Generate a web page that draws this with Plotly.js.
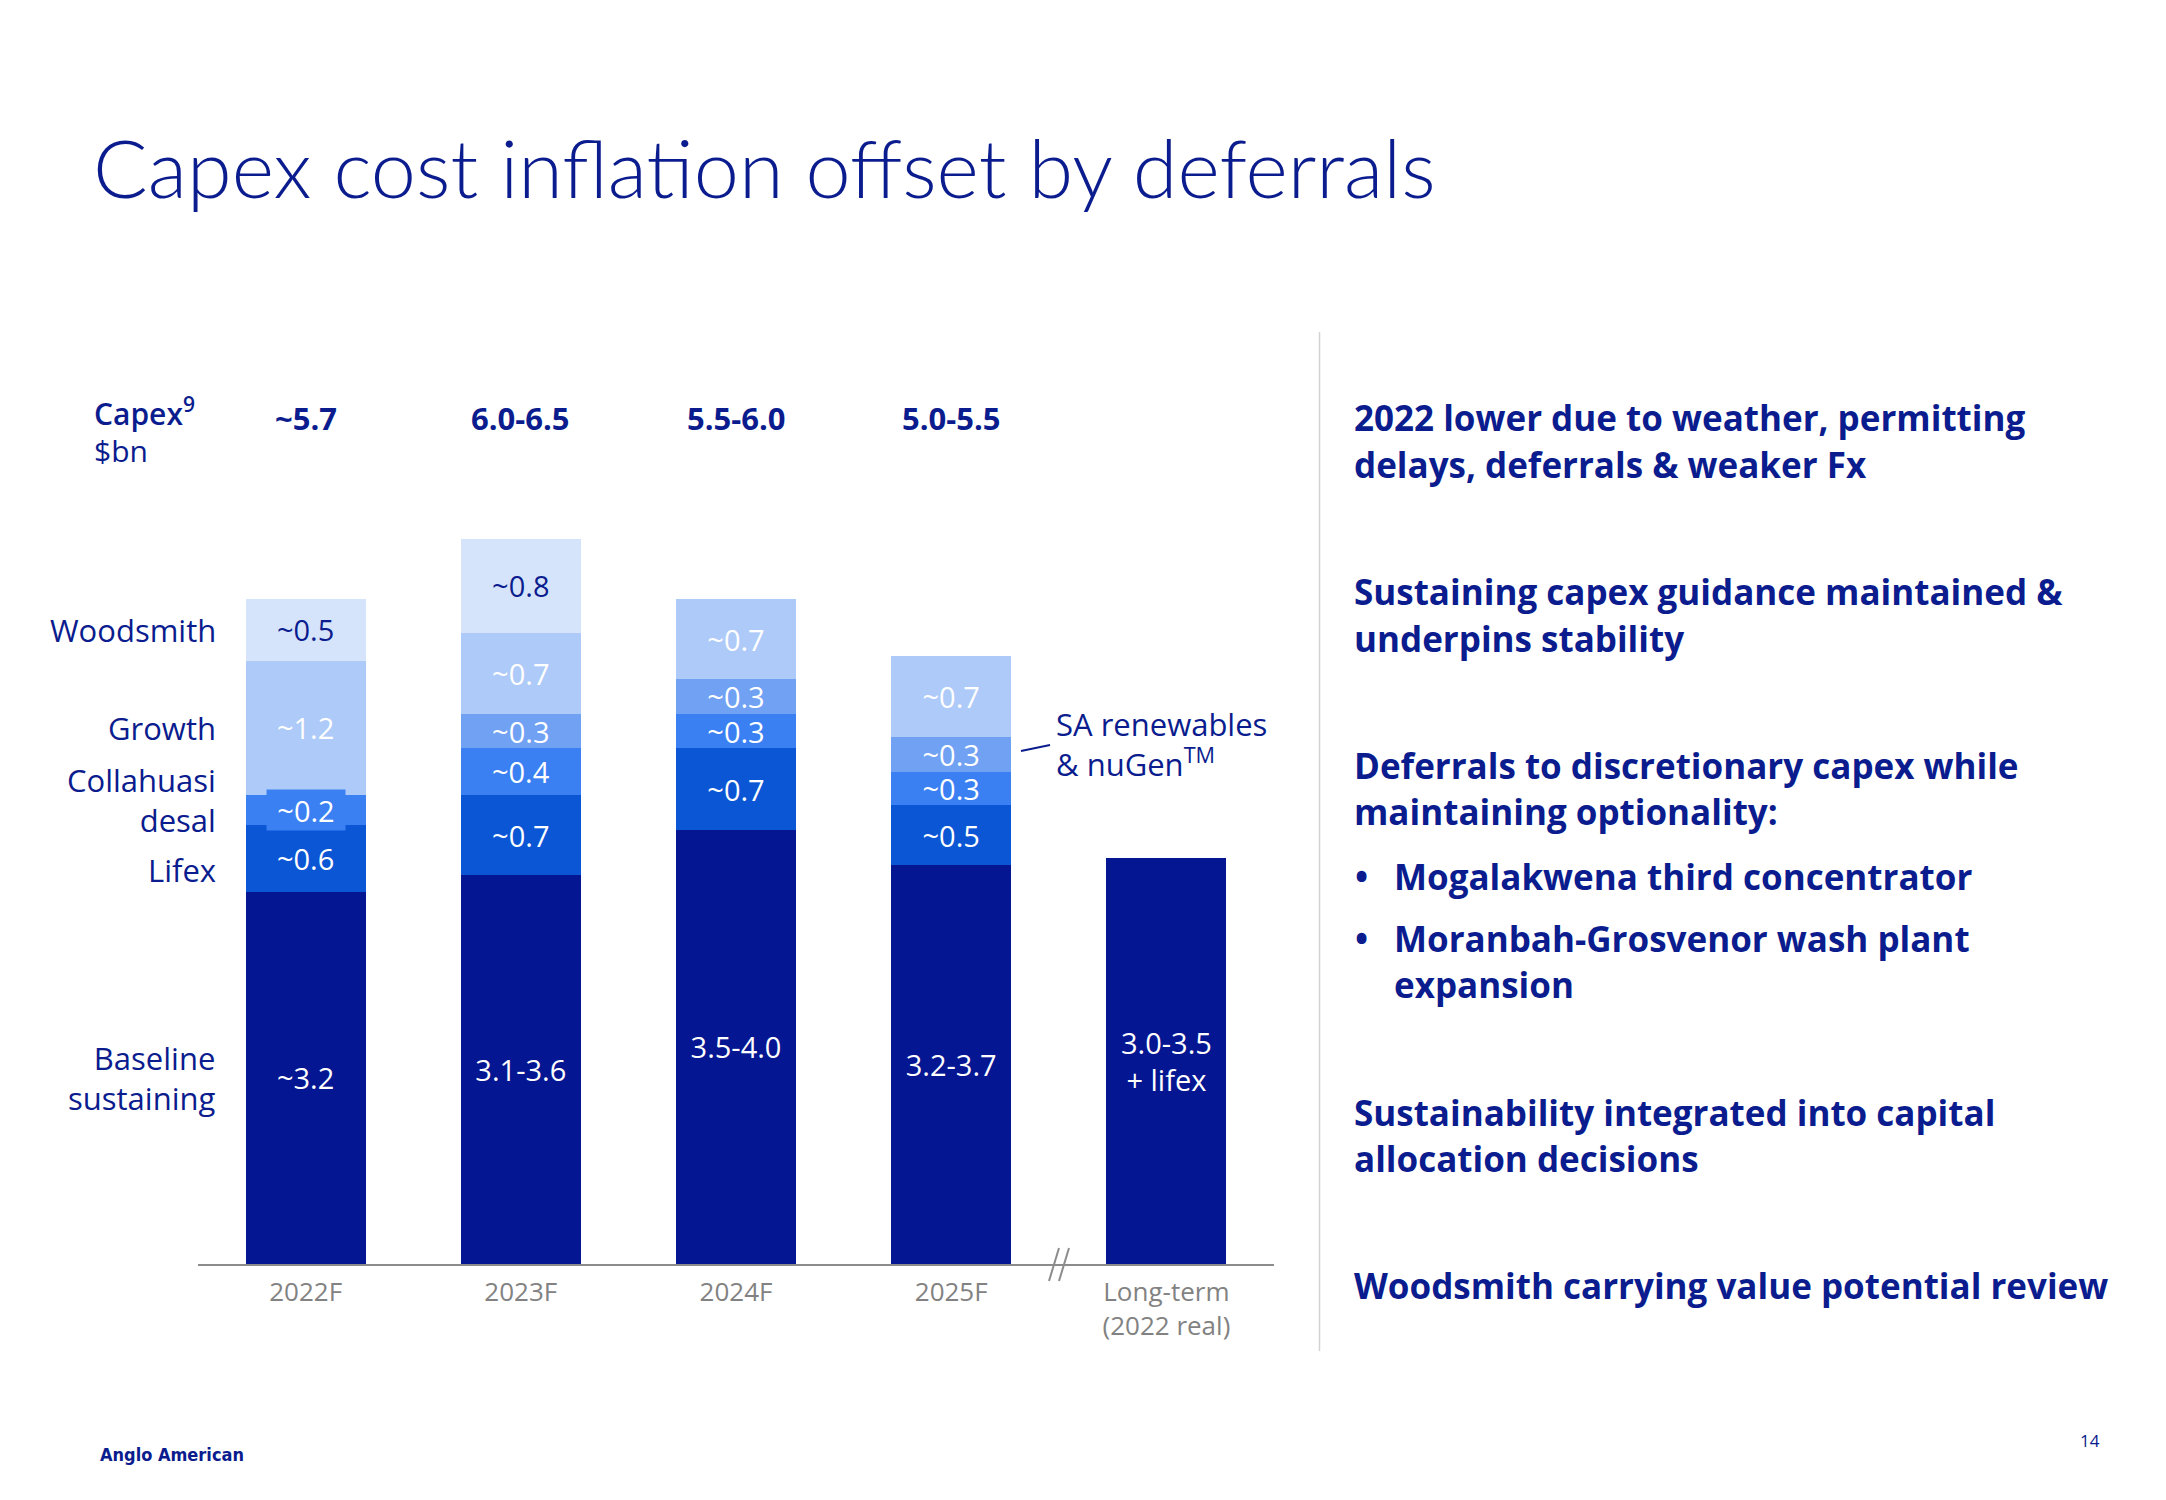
<!DOCTYPE html>
<html>
<head>
<meta charset="utf-8">
<script src="https://cdn.plot.ly/plotly-3.0.1.min.js"></script>
<style>
  html, body { margin: 0; padding: 0; background: #ffffff; }
  #chart { width: 2166px; height: 1500px; }
</style>
</head>
<body>
<div id="chart"></div>
<script>
// ---------- data ----------
const categories = ['2022F', '2023F', '2024F', '2025F', 'Long-term'];
const tickLabels = ['2022F', '2023F', '2024F', '2025F', 'Long-term<br>(2022 real)'];

const baseline   = [3.19, 3.33, 3.72, 3.42, 3.48];
const lifex      = [0.57, 0.69, 0.70, 0.51, 0];
const collahuasi = [0.26, 0.40, 0.29, 0.29, 0];
const saRenew    = [0, 0.29, 0.30, 0.30, 0];
const growth     = [1.15, 0.70, 0.69, 0.69, 0];
const woodsmith  = [0.53, 0.80, 0, 0, 0];

const baselineLabels   = ['~3.2', '3.1-3.6', '3.5-4.0', '3.2-3.7', '3.0-3.5<br>+ lifex'];
const lifexLabels      = ['~0.6', '~0.7', '~0.7', '~0.5', ''];
const collahuasiLabels = ['~0.2', '~0.4', '~0.3', '~0.3', ''];
const saLabels         = ['', '~0.3', '~0.3', '~0.3', ''];
const growthLabels     = ['~1.2', '~0.7', '~0.7', '~0.7', ''];
const woodsmithLabels  = ['~0.5', '~0.8', '', '', ''];
const totals           = ['~5.7', '6.0-6.5', '5.5-6.0', '5.0-5.5', ''];

const seriesNames = ['Baseline sustaining', 'Lifex', 'Collahuasi desal', 'SA renewables & nuGen', 'Growth', 'Woodsmith'];

// ---------- style ----------
const W = 2166, H = 1500;
const NAVY = '#0A1C8E';
const colors = ['#041691', '#0B56D5', '#3A80F3', '#70A1F3', '#AECAF8', '#D6E4FB'];
const FONT = '"Open Sans", Lato, sans-serif';
const px = v => v / W;
const py = v => 1 - v / H;

function barTrace(name, y, labels, color, textColor) {
  return {
    type: 'bar', name: name, x: categories, y: y,
    text: labels.map(t => t === '' ? null : t),
    textposition: 'inside', insidetextanchor: 'middle',
    textangle: 0, constraintext: 'none',
    textfont: { family: FONT, size: 29, color: textColor },
    marker: { color: color, line: { width: 0 } },
    width: 0.557, hoverinfo: 'skip', cliponaxis: false
  };
}

const collTextInBar = collahuasiLabels.map((t, i) => i === 0 ? '' : t);

const data = [
  barTrace(seriesNames[0], baseline, baselineLabels, colors[0], '#ffffff'),
  barTrace(seriesNames[1], lifex, lifexLabels, colors[1], '#ffffff'),
  barTrace(seriesNames[2], collahuasi, collTextInBar, colors[2], '#ffffff'),
  barTrace(seriesNames[3], saRenew, saLabels, colors[3], '#ffffff'),
  barTrace(seriesNames[4], growth, growthLabels, colors[4], '#ffffff'),
  barTrace(seriesNames[5], woodsmith, woodsmithLabels, colors[5], NAVY)
];

const annotations = [];
function addText(text, x, y, size, opts) {
  opts = opts || {};
  annotations.push(Object.assign({
    text: text, xref: 'paper', yref: 'paper', x: px(x), y: py(y),
    xanchor: 'left', yanchor: 'middle', showarrow: false, align: 'left',
    font: { family: FONT, size: size, color: NAVY }
  }, opts));
}

// title
addText('Capex cost inflation offset by deferrals', 91, 166, 81,
  { font: { family: 'Lato, sans-serif', size: 81, color: NAVY, weight: 300 } });

// unit label
addText('Capex<sup>9</sup>', 92, 412, 30, { font: { family: FONT, size: 30, color: NAVY, weight: 600 } });
addText('$bn', 92, 451, 30);

// totals over bars
totals.forEach((t, i) => {
  if (!t) return;
  annotations.push({
    text: t, xref: 'x', yref: 'paper', x: categories[i], y: py(418),
    xanchor: 'center', yanchor: 'middle', showarrow: false,
    font: { family: FONT, size: 31, color: NAVY, weight: 700 }
  });
});

// left series labels
const leftLabels = [
  ['Woodsmith', 630], ['Growth', 728], ['Collahuasi<br>desal', 800],
  ['Lifex', 870], ['Baseline<br>sustaining', 1078]
];
leftLabels.forEach(l => addText(l[0], 218, l[1], 31, { xanchor: 'right', align: 'right' }));

// 2022F Collahuasi label with box
annotations.push({
  text: collahuasiLabels[0], xref: 'x', yref: 'y', x: categories[0],
  y: baseline[0] + lifex[0] + collahuasi[0] / 2,
  showarrow: false, bgcolor: colors[2], width: 76, height: 38,
  font: { family: FONT, size: 29, color: '#ffffff' }
});

// SA renewables callout
addText('SA renewables<br>& nuGen<sup>TM</sup>', 1054, 744, 31);

// right commentary
const rightLines = [
  ['2022 lower due to weather, permitting', 1352, 417],
  ['delays, deferrals & weaker Fx', 1352, 464],
  ['Sustaining capex guidance maintained &', 1352, 591],
  ['underpins stability', 1352, 638],
  ['Deferrals to discretionary capex while', 1352, 765],
  ['maintaining optionality:', 1352, 811],
  ['•', 1353, 876],
  ['Mogalakwena third concentrator', 1392, 876],
  ['•', 1353, 938],
  ['Moranbah-Grosvenor wash plant', 1392, 938],
  ['expansion', 1392, 985],
  ['Sustainability integrated into capital', 1352, 1112],
  ['allocation decisions', 1352, 1158],
  ['Woodsmith carrying value potential review', 1352, 1285]
];
rightLines.forEach(l => addText(l[0], l[1], l[2], 35,
  { font: { family: '"Open Sans", sans-serif', size: 35, color: NAVY, weight: 700 } }));

// footer
addText('Anglo American', 98, 1454, 18,
  { font: { family: '"Liberation Sans Narrow", "DejaVu Sans Condensed", sans-serif', size: 18, color: NAVY, weight: 700 } });
addText('14', 2078, 1440, 17, { font: { family: FONT, size: 17, color: NAVY } });

const shapes = [
  // separator
  { type: 'line', xref: 'paper', yref: 'paper', x0: px(1319.5), x1: px(1319.5), y0: py(332), y1: py(1351),
    line: { color: '#D3D3D3', width: 1.5 } },
  // callout leader
  { type: 'line', xref: 'paper', yref: 'paper', x0: px(1021), x1: px(1050), y0: py(751), y1: py(745),
    line: { color: NAVY, width: 1.8 } },
  // axis break slashes
  { type: 'line', xref: 'paper', yref: 'paper', x0: px(1049), x1: px(1059), y0: py(1281), y1: py(1248),
    line: { color: '#8C8C8C', width: 2 } },
  { type: 'line', xref: 'paper', yref: 'paper', x0: px(1059), x1: px(1069), y0: py(1281), y1: py(1248),
    line: { color: '#8C8C8C', width: 2 } }
];

const layout = {
  width: W, height: H,
  margin: { l: 0, r: 0, t: 0, b: 0 },
  paper_bgcolor: '#ffffff', plot_bgcolor: 'rgba(0,0,0,0)',
  barmode: 'stack', showlegend: false,
  xaxis: {
    type: 'category', domain: [px(198), px(1274)], range: [-0.5, 4.5],
    tickmode: 'array', tickvals: categories, ticktext: tickLabels,
    showline: true, linecolor: '#8C8C8C', linewidth: 2.2,
    ticks: '', showgrid: false, zeroline: false, fixedrange: true,
    tickfont: { family: FONT, size: 26, color: '#828282' },
    ticklabelstandoff: 4
  },
  yaxis: {
    domain: [1 - 1264 / H, 1 - 1264 / H + 7 * 116.7 / H], range: [0, 7],
    visible: false, showgrid: false, zeroline: false, fixedrange: true
  },
  annotations: annotations,
  shapes: shapes
};

Plotly.newPlot('chart', data, layout, { displayModeBar: false, staticPlot: true });
</script>
</body>
</html>
